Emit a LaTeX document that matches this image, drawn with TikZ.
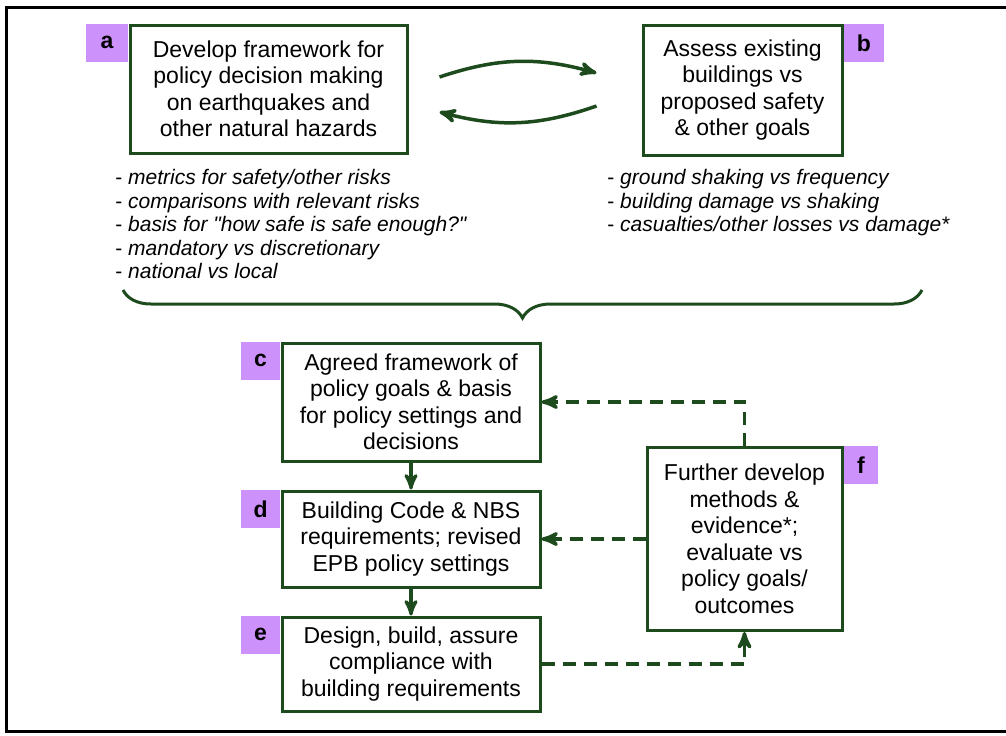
\documentclass[tikz,border=0pt]{standalone}
\usepackage{fontspec}
\setmainfont{Liberation Sans}
\usetikzlibrary{arrows, calc, decorations.pathreplacing}
\definecolor{boxgreen}{RGB}{30,75,30}
\definecolor{tagpurple}{RGB}{204,145,250}

\begin{document}
\begin{tikzpicture}[x=0.5pt, y=-0.5pt, node distance=62.5pt]
% Styles
\tikzstyle{box} = [rectangle, draw=boxgreen, line width=1.5pt, fill=white, text centered, align=center, inner sep=2pt, font=\fontsize{11.5}{13.25}\selectfont]
\tikzstyle{tag} = [rectangle, fill=tagpurple, minimum height=19pt, text centered, inner sep=0pt, font=\fontsize{11.5}{13.25}\selectfont\bfseries]
\tikzstyle{notes} = [align=left, inner sep=0pt, font=\fontsize{10.5}{11.75}\selectfont]
\tikzstyle{arrow} = [draw=boxgreen, line width=1.6pt, ->, >=stealth']
\tikzstyle{dasharrow} = [arrow, line width=1.75pt, dash pattern=on 6.5pt off 4pt]
\tikzstyle{swaparrow} = [draw=boxgreen, line width=1.75pt, ->, >=stealth']

\useasboundingbox (0,0) rectangle (1006,735);
\draw [line width=1.5pt] (1006,7) -- (6,7) -- (6,731) -- (1006,731);

% Top row
\node (develop_framework) [box, minimum width=138.5pt, minimum height=64pt] at (268.5,89) {Develop framework for\\policy decision making\\on earthquakes and\\other natural hazards};
\node (assess_buildings) [box, minimum width=99.5pt, minimum height=65pt] at (742.5,90) {Assess existing\\buildings vs\\proposed safety\\\& other goals};
\node (label_a) [tag, minimum width=21pt, anchor=north east] at (develop_framework.north west) {a};
\node (label_b) [tag, minimum width=20pt, anchor=north west] at (assess_buildings.north east) {b};

\node (framework_notes) [notes, anchor=north west] at (115,169) {- \textit{metrics for safety/other risks}\\- \textit{comparisons with relevant risks}\\- \textit{basis for \textquotedbl how safe is safe enough?\textquotedbl}\\- \textit{mandatory vs discretionary}\\- \textit{national vs local}};
\node (assess_notes) [notes, anchor=north west] at (607,169) {- \textit{ground shaking vs frequency}\\- \textit{building damage vs shaking}\\- \textit{casualties/other losses vs damage*}};

\draw [swaparrow] ([xshift=15.5pt, yshift=6pt]develop_framework.east) to[bend left=17] ([xshift=-22.5pt, yshift=8.5pt]assess_buildings.west);
\draw [swaparrow] ([xshift=-22.5pt, yshift=-8pt]assess_buildings.west) to[bend left=17] ([xshift=15.5pt, yshift=-11.5pt]develop_framework.east);

% Brace
\coordinate (brace_left) at (123,290);
\coordinate (brace_right) at (922,290);
\draw [draw=boxgreen, line width=1.5pt, decorate, decoration={brace, mirror, amplitude=14pt}] (brace_left) -- (brace_right);

% Lower chain
\node (agreed_framework) [box, minimum width=129pt, minimum height=59pt] at (411,402) {Agreed framework of\\policy goals \& basis\\for policy settings and\\decisions};
\node (code_requirements) [box, minimum width=129pt, minimum height=48pt, below of=agreed_framework, yshift=-6pt] {Building Code \& NBS\\requirements; revised\\EPB policy settings};
\node (design_build) [box, minimum width=129pt, minimum height=47pt, below of=code_requirements] {Design, build, assure\\compliance with\\building requirements};
\node (further_develop) [box, minimum width=97.5pt, minimum height=91.5pt, right of=code_requirements, xshift=104.25pt] {Further develop\\methods \&\\evidence*;\\evaluate vs\\policy goals/\\outcomes};

\node (label_c) [tag, minimum width=19.5pt, anchor=north east] at (agreed_framework.north west) {c};
\node (label_d) [tag, minimum width=19.5pt, anchor=north east] at (code_requirements.north west) {d};
\node (label_e) [tag, minimum width=19.5pt, anchor=north east] at (design_build.north west) {e};
\node (label_f) [tag, minimum width=17pt, anchor=north west] at (further_develop.north east) {f};

\draw [arrow] (agreed_framework) -- (code_requirements);
\draw [arrow] (code_requirements) -- (design_build);
\draw [dasharrow] (further_develop.north) |- (agreed_framework.east);
\draw [dasharrow] (further_develop.west |- code_requirements.east) -- (code_requirements.east);
\draw [dasharrow] (design_build.east) -| (further_develop.south);

\end{tikzpicture}
\end{document}
